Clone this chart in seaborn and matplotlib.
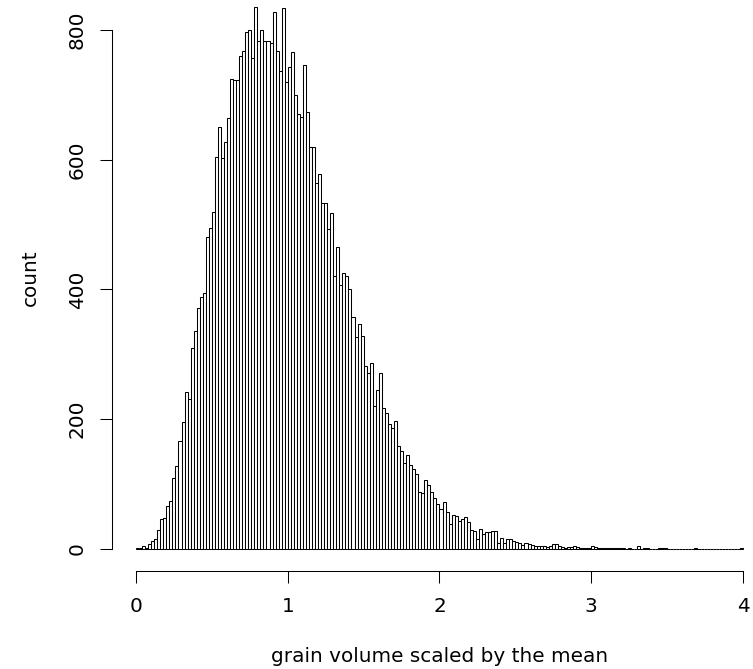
import numpy as np
import pandas as pd
import matplotlib
matplotlib.use("Agg")
import matplotlib.pyplot as plt
import seaborn as sns

# ---- data ----
bin_start = 0.0
bin_end = 4.0
bin_width = 0.02
counts = [
    1, 1, 5, 2, 7, 13, 16, 30, 46, 48,
    66, 74, 110, 128, 167, 196, 242, 231, 310, 336,
    372, 389, 394, 480, 494, 519, 604, 651, 602, 627,
    664, 724, 722, 722, 759, 767, 797, 800, 756, 835,
    783, 799, 782, 782, 779, 828, 767, 737, 833, 720,
    743, 766, 700, 670, 666, 746, 674, 619, 619, 564,
    578, 533, 533, 493, 517, 420, 465, 407, 425, 420,
    400, 358, 327, 347, 328, 282, 271, 286, 220, 245,
    271, 217, 209, 192, 186, 198, 159, 151, 133, 145,
    130, 123, 116, 88, 87, 107, 99, 88, 78, 70,
    61, 73, 57, 38, 53, 51, 43, 46, 50, 41,
    30, 28, 16, 31, 23, 26, 26, 28, 27, 9,
    17, 10, 15, 15, 13, 11, 10, 6, 9, 8,
    6, 5, 5, 4, 4, 3, 4, 7, 7, 4,
    3, 2, 3, 3, 5, 3, 2, 2, 2, 2,
    5, 3, 1, 1, 1, 2, 1, 2, 1, 2,
    1, 0, 1, 0, 0, 4, 0, 1, 1, 0,
    0, 0, 1, 1, 1, 0, 0, 0, 0, 0,
    0, 0, 0, 0, 1, 0, 0, 0, 0, 0,
    0, 0, 0, 0, 0, 0, 0, 0, 0, 1,
]
x_ticks = [0, 1, 2, 3, 4]
y_ticks = [0, 200, 400, 600, 800]
x_label = "grain volume scaled by the mean"
y_label = "count"

n_bins = len(counts)
centers = bin_start + bin_width * (np.arange(n_bins) + 0.5)
df = pd.DataFrame({"volume": centers, "count": counts})

sns.set_style("ticks")
plt.rcParams["font.family"] = ["DejaVu Sans"]

W, H = 753, 669
fig = plt.figure(figsize=(W / 100, H / 100), dpi=100)
fig.patch.set_facecolor("white")

# plot region in pixels (R style, extends past the right/top edges)
left_px, right_px = 111.7, 767.3
top_px, bottom_px = -14.6, 570.7
ax = fig.add_axes([left_px / W, 1 - bottom_px / H,
                   (right_px - left_px) / W, (bottom_px - top_px) / H])
ax.set_facecolor("white")

sns.histplot(data=df, x="volume", weights="count",
             binwidth=bin_width, binrange=(bin_start, bin_end),
             color="white", edgecolor="black", linewidth=0.75, alpha=1,
             ax=ax)

ax.set_xlim(-0.16, 4.16)
ax.set_ylim(-33.4, 868.4)

for s in ["top", "right"]:
    ax.spines[s].set_visible(False)
ax.spines["bottom"].set_bounds(x_ticks[0], x_ticks[-1])
ax.spines["left"].set_bounds(y_ticks[0], y_ticks[-1])
for s in ["bottom", "left"]:
    ax.spines[s].set_linewidth(0.75)
    ax.spines[s].set_color("black")

ax.set_xticks(x_ticks)
ax.set_yticks(y_ticks)
ax.set_xticklabels([str(t) for t in x_ticks])
ax.set_yticklabels([str(t) for t in y_ticks])
ax.tick_params(axis="both", direction="out", length=8.6, width=0.75,
               color="black", labelsize=14.4, labelcolor="black")
ax.tick_params(axis="x", pad=10.5)
ax.tick_params(axis="y", pad=9.4, labelrotation=90)
for lab in ax.get_yticklabels():
    lab.set_va("center")

ax.set_xlabel(x_label, fontsize=14.4, color="black")
ax.set_ylabel(y_label, fontsize=14.4, color="black")
axw = right_px - left_px
axh = bottom_px - top_px
ax.xaxis.set_label_coords(0.5, -(647.5 - bottom_px) / axh)
ax.yaxis.set_label_coords((39.7 - left_px) / axw, 0.5)

fig.savefig("out.png", dpi=100, facecolor="white")
